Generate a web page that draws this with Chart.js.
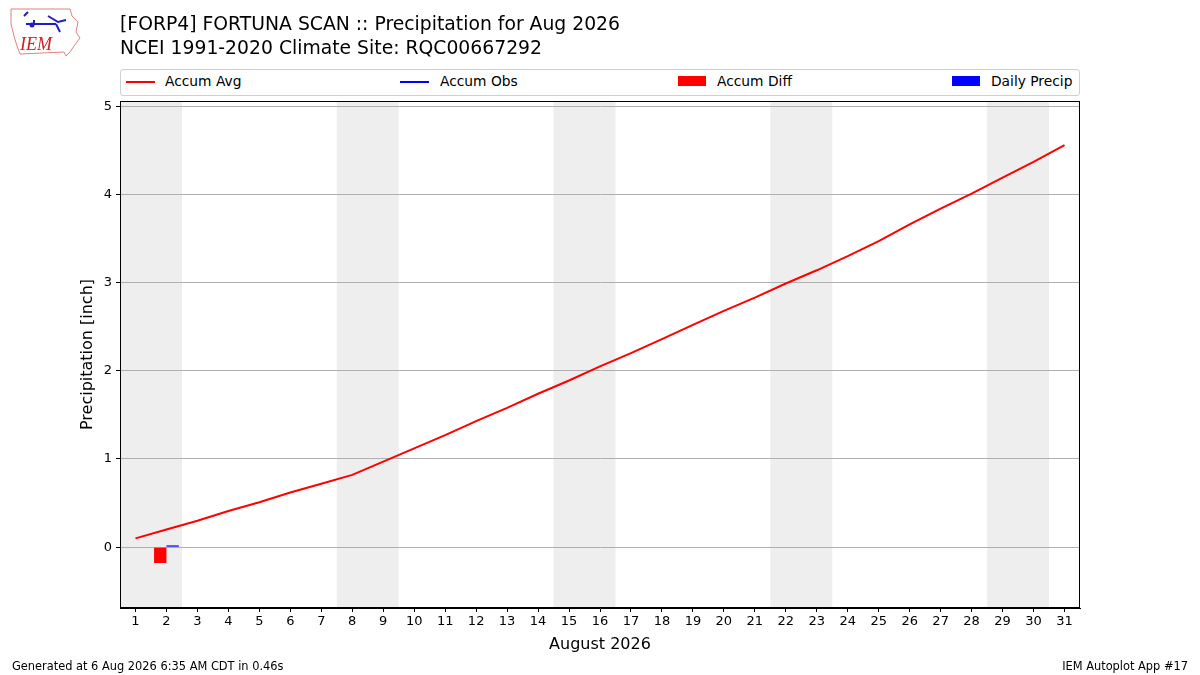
<!DOCTYPE html>
<html>
<head>
<meta charset="utf-8">
<script src="https://cdn.jsdelivr.net/npm/chart.js@4.4.1/dist/chart.umd.min.js"></script>
<style>
  html,body{margin:0;padding:0;background:#fff;}
  #wrap{position:relative;width:1200px;height:675px;font-family:"DejaVu Sans",sans-serif;}
  canvas{position:absolute;left:0;top:0;}
  .t{position:absolute;color:#000;white-space:nowrap;}
  #legend{position:absolute;left:120px;top:69px;width:958px;height:25px;border:1px solid #d0d0d0;border-radius:3px;background:#fff;font-size:13.8px;}
  .li{position:absolute;top:3px;}
  .sw{position:absolute;}
</style>
</head>
<body>
<div id="wrap">
  <canvas id="c" width="1200" height="675"></canvas>
  <svg class="t" style="left:8px;top:6px" width="74" height="54" viewBox="0 0 74 54">
    <path d="M3 3 L62 3 L64 10 L70 16 L68 26 L72 32 L66 40 L62 46 L58 50 L56 46 L12 48 L9 40 L6 30 L3 18 Z" fill="none" stroke="#e08080" stroke-width="1"/>
    <path d="M18 18 L48 18 M26 18 L26 14 M40 10 L50 16 L58 14 M48 18 L52 26 M16 10 L20 6" stroke="#2020c0" stroke-width="2" fill="none"/>
    <circle cx="24" cy="19" r="2.5" fill="#2020c0"/>
    <text x="12" y="44" font-family="Liberation Serif,serif" font-style="italic" font-size="18" fill="#d02020">IEM</text>
  </svg>
  <div class="t" style="left:120px;top:13px;font-size:18.8px;">[FORP4] FORTUNA SCAN :: Precipitation for Aug 2026</div>
  <div class="t" style="left:120px;top:37px;font-size:18.8px;">NCEI 1991-2020 Climate Site: RQC00667292</div>
  <div id="legend">
    <div class="sw" style="left:5px;top:11px;width:29px;height:2px;background:#ff0000"></div>
    <div class="li" style="left:44px">Accum Avg</div>
    <div class="sw" style="left:279px;top:11px;width:29px;height:2px;background:#0000ff"></div>
    <div class="li" style="left:319px">Accum Obs</div>
    <div class="sw" style="left:557px;top:6px;width:28px;height:10px;background:#ff0000"></div>
    <div class="li" style="left:596px">Accum Diff</div>
    <div class="sw" style="left:831px;top:6px;width:28px;height:10px;background:#0000ff"></div>
    <div class="li" style="left:870px">Daily Precip</div>
  </div>
  <div class="t" style="left:12px;top:659px;font-size:11.4px;">Generated at 6 Aug 2026 6:35 AM CDT in 0.46s</div>
  <div class="t" style="right:12px;top:659px;font-size:11.4px;">IEM Autoplot App #17</div>
</div>
<script>
// ---- data ----
const days = ["1","2","3","4","5","6","7","8","9","10","11","12","13","14","15","16","17","18","19","20","21","22","23","24","25","26","27","28","29","30","31"];
const accumAvg = [0.10,0.20,0.30,0.41,0.51,0.62,0.72,0.82,0.97,1.12,1.27,1.43,1.58,1.74,1.89,2.05,2.20,2.36,2.52,2.68,2.83,2.99,3.14,3.30,3.47,3.66,3.84,4.01,4.19,4.37,4.56];
const accumObs = [null,0.02];
const accumDiff = [null,-0.18];
const dailyPrecip = [null,0.02];
const weekends = [["1","2"],["8","9"],["15","16"],["22","23"],["29","30"]];
const yTicks = [0,1,2,3,4,5];

const shadePlugin = {
  id:'shade',
  beforeDraw(chart){
    const ctx = chart.ctx, x = chart.scales.x, a = chart.chartArea;
    ctx.save();
    ctx.fillStyle = '#fff';
    ctx.fillRect(0,0,chart.width,chart.height);
    ctx.fillStyle = '#eeeeee';
    const half = (x.getPixelForValue(1) - x.getPixelForValue(0))/2;
    weekends.forEach(([s,e])=>{
      const x0 = x.getPixelForValue(days.indexOf(s)) - half;
      const x1 = x.getPixelForValue(days.indexOf(e)) + half;
      ctx.fillRect(x0, a.top, x1-x0, a.bottom-a.top);
    });
    ctx.restore();
  },
  afterDraw(chart){
    const ctx = chart.ctx, a = chart.chartArea;
    ctx.save();
    ctx.strokeStyle = '#000'; ctx.lineWidth = 1;
    ctx.strokeRect(a.left+0.5, a.top+0.5, a.right-a.left-1, a.bottom-a.top-1);
    ctx.restore();
  }
};

new Chart(document.getElementById('c'), {
  data:{
    labels: days,
    datasets:[
      {type:'line', label:'Accum Avg', data:accumAvg, borderColor:'#ff0000', borderWidth:2, pointRadius:0, tension:0, order:1},
      {type:'line', label:'Accum Obs', data:accumObs, borderColor:'#0000ff', borderWidth:2, pointRadius:0, tension:0, order:2},
      {type:'bar', label:'Accum Diff', data:accumDiff, backgroundColor:'#ff0000', categoryPercentage:0.8, barPercentage:1.0, order:3},
      {type:'bar', label:'Daily Precip', data:dailyPrecip, backgroundColor:'#0000ff', categoryPercentage:0.8, barPercentage:1.0, minBarLength:1, order:4}
    ]
  },
  options:{
    responsive:false, animation:false, devicePixelRatio:1,
    layout:{padding:{left:78, right:120, top:101, bottom:21}},
    plugins:{legend:{display:false}, tooltip:{enabled:false}},
    scales:{
      x:{
        type:'category', offset:true,
        grid:{display:true, drawOnChartArea:false, drawTicks:true, tickLength:4, tickColor:'#000', offset:false},
        border:{display:true, color:'#000'},
        ticks:{color:'#000', font:{family:'DejaVu Sans', size:13}, padding:2, maxRotation:0, autoSkip:false},
        title:{display:true, text:'August 2026', color:'#000', font:{family:'DejaVu Sans', size:16}, padding:{top:2,bottom:0}},
        afterFit(s){ s.height = 46; }
      },
      y:{
        type:'linear', min:-0.69, max:5.06,
        afterBuildTicks(s){ s.ticks = yTicks.map(v=>({value:v})); },
        grid:{color:'#b0b0b0', lineWidth:1, drawTicks:true, tickLength:4, tickColor:'#000'},
        border:{display:true, color:'#000'},
        ticks:{color:'#000', font:{family:'DejaVu Sans', size:13}, padding:4},
        title:{display:true, text:'Precipitation [inch]', color:'#000', font:{family:'DejaVu Sans', size:16}, padding:{top:0,bottom:0}},
        afterFit(s){ s.width = 42; }
      }
    }
  },
  plugins:[shadePlugin]
});
</script>
</body>
</html>
